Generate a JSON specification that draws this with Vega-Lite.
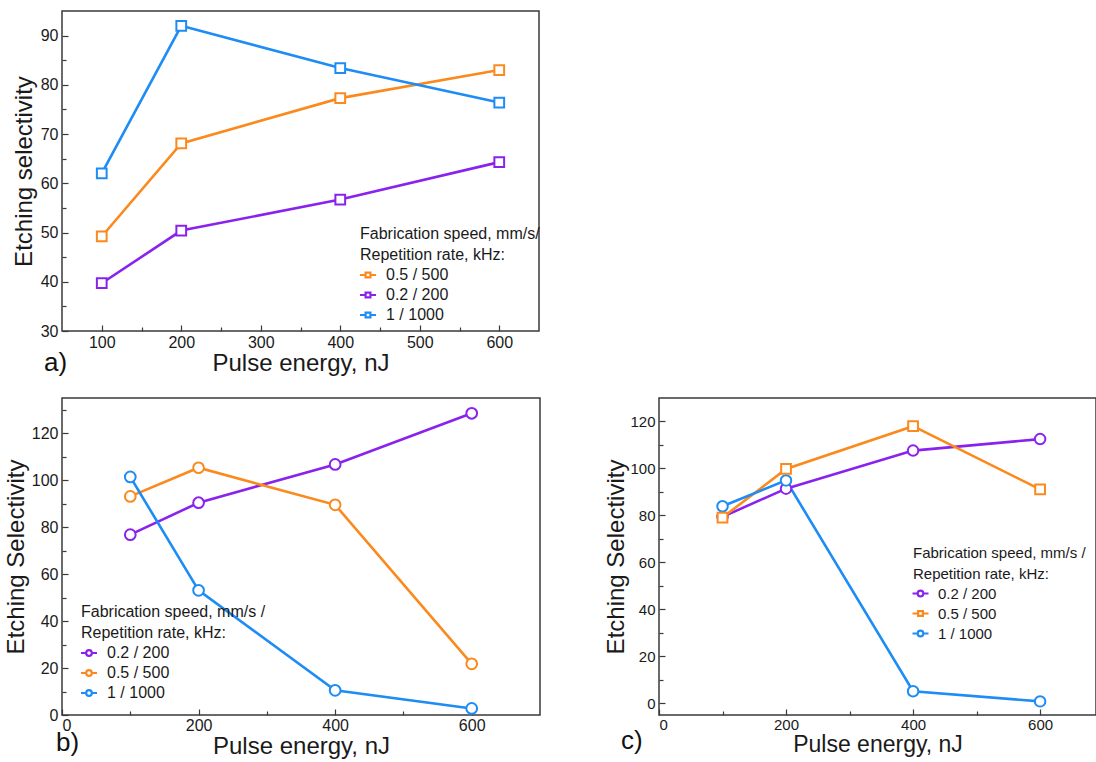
{
  "$schema": "https://vega.github.io/schema/vega-lite/v6.json",
  "background": "white",
  "padding": {"left": 3, "top": 10, "right": 0, "bottom": 0},
  "datasets": {
    "d": [
      {"panel": "a", "series": "0.5 / 500", "energy": 100, "value": 49.2},
      {"panel": "a", "series": "0.5 / 500", "energy": 200, "value": 68.1},
      {"panel": "a", "series": "0.5 / 500", "energy": 400, "value": 77.3},
      {"panel": "a", "series": "0.5 / 500", "energy": 600, "value": 83.0},
      {"panel": "a", "series": "0.2 / 200", "energy": 100, "value": 39.7},
      {"panel": "a", "series": "0.2 / 200", "energy": 200, "value": 50.4},
      {"panel": "a", "series": "0.2 / 200", "energy": 400, "value": 56.7},
      {"panel": "a", "series": "0.2 / 200", "energy": 600, "value": 64.3},
      {"panel": "a", "series": "1 / 1000", "energy": 100, "value": 62.0},
      {"panel": "a", "series": "1 / 1000", "energy": 200, "value": 92.0},
      {"panel": "a", "series": "1 / 1000", "energy": 400, "value": 83.4},
      {"panel": "a", "series": "1 / 1000", "energy": 600, "value": 76.4},
      {"panel": "b", "series": "0.2 / 200", "energy": 100, "value": 76.8},
      {"panel": "b", "series": "0.2 / 200", "energy": 200, "value": 90.4},
      {"panel": "b", "series": "0.2 / 200", "energy": 400, "value": 106.7},
      {"panel": "b", "series": "0.2 / 200", "energy": 600, "value": 128.5},
      {"panel": "b", "series": "0.5 / 500", "energy": 100, "value": 93.1},
      {"panel": "b", "series": "0.5 / 500", "energy": 200, "value": 105.3},
      {"panel": "b", "series": "0.5 / 500", "energy": 400, "value": 89.5},
      {"panel": "b", "series": "0.5 / 500", "energy": 600, "value": 21.8},
      {"panel": "b", "series": "1 / 1000", "energy": 100, "value": 101.4},
      {"panel": "b", "series": "1 / 1000", "energy": 200, "value": 53.1},
      {"panel": "b", "series": "1 / 1000", "energy": 400, "value": 10.5},
      {"panel": "b", "series": "1 / 1000", "energy": 600, "value": 2.8},
      {"panel": "c", "series": "0.2 / 200", "energy": 100, "value": 79.4},
      {"panel": "c", "series": "0.2 / 200", "energy": 200, "value": 91.4},
      {"panel": "c", "series": "0.2 / 200", "energy": 400, "value": 107.6},
      {"panel": "c", "series": "0.2 / 200", "energy": 600, "value": 112.5},
      {"panel": "c", "series": "0.5 / 500", "energy": 100, "value": 79.1},
      {"panel": "c", "series": "0.5 / 500", "energy": 200, "value": 99.8},
      {"panel": "c", "series": "0.5 / 500", "energy": 400, "value": 118.0},
      {"panel": "c", "series": "0.5 / 500", "energy": 600, "value": 91.1},
      {"panel": "c", "series": "1 / 1000", "energy": 100, "value": 83.9},
      {"panel": "c", "series": "1 / 1000", "energy": 200, "value": 94.9},
      {"panel": "c", "series": "1 / 1000", "energy": 400, "value": 5.1},
      {"panel": "c", "series": "1 / 1000", "energy": 600, "value": 0.8}
    ]
  },
  "spacing": 20,
  "resolve": {"scale": {"color": "independent"}, "legend": {"color": "independent"}},
  "vconcat": [
    {
      "width": 477,
      "height": 320,
      "data": {"name": "d"},
      "transform": [{"filter": "datum.panel === 'a'"}],
      "title": {"text": "a)", "orient": "bottom", "anchor": "start", "frame": "group", "fontSize": 26, "fontWeight": "normal", "font": "Liberation Sans", "color": "#111", "dx": -18, "dy": -29},
      "encoding": {
        "x": {"field": "energy", "type": "quantitative", "scale": {"domain": [50, 650], "nice": false},
          "axis": {"title": "Pulse energy, nJ", "values": [100, 150, 200, 250, 300, 350, 400, 450, 500, 550, 600],
            "labelExpr": "datum.value % 100 === 0 ? datum.label : ''",
            "tickSize": {"condition": {"test": "datum.value % 100 === 0", "value": -6}, "value": -4},
            "labelPadding": 9, "titlePadding": 1}},
        "y": {"field": "value", "type": "quantitative", "scale": {"domain": [30, 95], "nice": false, "zero": false},
          "axis": {"title": "Etching selectivity", "values": [30, 35, 40, 45, 50, 55, 60, 65, 70, 75, 80, 85, 90],
            "labelExpr": "datum.value % 10 === 0 ? datum.label : ''",
            "tickSize": {"condition": {"test": "datum.value % 10 === 0", "value": -6}, "value": -4},
            "labelPadding": 10, "titlePadding": 4}},
        "color": {"field": "series", "type": "nominal",
          "scale": {"domain": ["0.5 / 500", "0.2 / 200", "1 / 1000"], "range": ["#fb8a1e", "#8a22ee", "#1e8cf5"]},
          "legend": {"orient": "none", "legendX": 298, "legendY": 215,
            "title": ["Fabrication speed, mm/s/", "Repetition rate, kHz:"],
            "symbolType": "M-2,0H-0.6M0.6,0H2M-0.6,-0.6H0.6V0.6H-0.6Z", "symbolSize": 64, "symbolStrokeWidth": 2.2,
            "labelOffset": 10}}
      },
      "layer": [
        {"mark": {"type": "line", "strokeWidth": 2.6}},
        {"mark": {"type": "point", "shape": "square", "filled": false, "fill": "white", "fillOpacity": 1, "opacity": 1, "size": 95, "strokeWidth": 2}}
      ]
    },
    {
      "spacing": 63,
      "resolve": {"scale": {"color": "independent"}, "legend": {"color": "independent"}},
      "hconcat": [
        {
          "width": 478,
          "height": 317,
          "data": {"name": "d"},
          "transform": [{"filter": "datum.panel === 'b'"}],
          "title": {"text": "b)", "orient": "bottom", "anchor": "start", "frame": "group", "fontSize": 26, "fontWeight": "normal", "font": "Liberation Sans", "color": "#111", "dx": -6, "dy": -32},
          "encoding": {
            "x": {"field": "energy", "type": "quantitative", "scale": {"domain": [0, 700], "nice": false},
              "axis": {"title": "Pulse energy, nJ", "values": [0, 100, 200, 300, 400, 500, 600],
                "labelExpr": "datum.value % 200 === 0 ? datum.label : ''",
                "tickSize": {"condition": {"test": "datum.value % 200 === 0", "value": -6}, "value": -4},
                "labelPadding": 8, "titlePadding": 1}},
            "y": {"field": "value", "type": "quantitative", "scale": {"domain": [0, 135], "nice": false},
              "axis": {"title": "Etching Selectivity", "values": [0, 10, 20, 30, 40, 50, 60, 70, 80, 90, 100, 110, 120, 130],
                "labelExpr": "datum.value % 20 === 0 ? datum.label : ''",
                "tickSize": {"condition": {"test": "datum.value % 20 === 0", "value": -6}, "value": -4},
                "labelPadding": 10, "titlePadding": 3}},
            "color": {"field": "series", "type": "nominal",
              "scale": {"domain": ["0.2 / 200", "0.5 / 500", "1 / 1000"], "range": ["#8a22ee", "#fb8a1e", "#1e8cf5"]},
              "legend": {"orient": "none", "legendX": 19, "legendY": 206,
                "title": ["Fabrication speed, mm/s /", "Repetition rate, kHz:"],
                "symbolType": "M-2,0H-0.7M0.7,0A0.7,0.7,0,1,1,-0.7,0A0.7,0.7,0,1,1,0.7,0M0.7,0H2", "symbolSize": 64, "symbolStrokeWidth": 2.2,
                "labelOffset": 10}}
          },
          "layer": [
            {"mark": {"type": "line", "strokeWidth": 2.6}},
            {"mark": {"type": "point", "shape": "circle", "filled": false, "fill": "white", "fillOpacity": 1, "opacity": 1, "size": 115, "strokeWidth": 2}}
          ]
        },
        {
          "width": 437,
          "height": 317,
          "data": {"name": "d"},
          "transform": [{"filter": "datum.panel === 'c'"}],
          "title": {"text": "c)", "orient": "bottom", "anchor": "start", "frame": "group", "fontSize": 26, "fontWeight": "normal", "font": "Liberation Sans", "color": "#111", "dx": -38, "dy": -32},
          "encoding": {
            "x": {"field": "energy", "type": "quantitative", "scale": {"domain": [0, 688], "nice": false},
              "axis": {"title": "Pulse energy, nJ", "values": [0, 100, 200, 300, 400, 500, 600],
                "labelExpr": "datum.value % 200 === 0 ? datum.label : ''",
                "tickSize": {"condition": {"test": "datum.value % 200 === 0", "value": -6}, "value": -4},
                "labelPadding": 8, "titlePadding": 1, "labelFontSize": 15, "titleFontSize": 23}},
            "y": {"field": "value", "type": "quantitative", "scale": {"domain": [-5, 130], "nice": false, "zero": false},
              "axis": {"title": "Etching Selectivity", "values": [0, 10, 20, 30, 40, 50, 60, 70, 80, 90, 100, 110, 120],
                "labelExpr": "datum.value % 20 === 0 ? datum.label : ''",
                "tickSize": {"condition": {"test": "datum.value % 20 === 0", "value": -6}, "value": -4},
                "labelPadding": 10, "titlePadding": 1, "labelFontSize": 15, "titleFontSize": 24}},
            "color": {"field": "series", "type": "nominal",
              "scale": {"domain": ["0.2 / 200", "0.5 / 500", "1 / 1000"], "range": ["#8a22ee", "#fb8a1e", "#1e8cf5"]},
              "legend": {"orient": "none", "legendX": 254, "legendY": 148,
                "title": ["Fabrication speed, mm/s /", "Repetition rate, kHz:"],
                "titleFontSize": 15, "labelFontSize": 15,
                "symbolType": "M-2,0H-0.7M0.7,0A0.7,0.7,0,1,1,-0.7,0A0.7,0.7,0,1,1,0.7,0M0.7,0H2", "symbolSize": 64, "symbolStrokeWidth": 2.2,
                "labelOffset": 10,
                "encode": {"symbols": {"update": {"shape": {"signal": "datum.value === '0.5 / 500' ? 'M-2,0H-0.6M0.6,0H2M-0.6,-0.6H0.6V0.6H-0.6Z' : 'M-2,0H-0.7M0.7,0A0.7,0.7,0,1,1,-0.7,0A0.7,0.7,0,1,1,0.7,0M0.7,0H2'"}}}}}}
          },
          "layer": [
            {"mark": {"type": "line", "strokeWidth": 2.6}},
            {"transform": [{"filter": "datum.series !== '0.5 / 500'"}],
             "mark": {"type": "point", "shape": "circle", "filled": false, "fill": "white", "fillOpacity": 1, "opacity": 1, "size": 110, "strokeWidth": 2}},
            {"transform": [{"filter": "datum.series === '0.5 / 500'"}],
             "mark": {"type": "point", "shape": "square", "filled": false, "fill": "white", "fillOpacity": 1, "opacity": 1, "size": 95, "strokeWidth": 2}}
          ]
        }
      ]
    }
  ],
  "config": {
    "font": "Liberation Sans",
    "view": {"stroke": "#3a3a3a", "strokeWidth": 1.5},
    "axis": {"grid": false, "domain": false, "labelFont": "Liberation Sans", "labelFontSize": 16, "labelColor": "#1a1a1a",
      "titleFont": "Liberation Sans", "titleFontSize": 24, "titleFontWeight": "normal", "titleColor": "#1a1a1a",
      "tickColor": "#3a3a3a", "tickWidth": 1.2},
    "legend": {"titleFont": "Liberation Sans", "titleFontSize": 16, "titleFontWeight": "normal", "titleColor": "#1a1a1a",
      "titleLineHeight": 21, "titlePadding": 4, "titleLimit": 400, "labelFont": "Liberation Sans", "labelFontSize": 16, "labelColor": "#1a1a1a",
      "rowPadding": 4, "padding": 0, "symbolFillColor": "white"}
  }
}
